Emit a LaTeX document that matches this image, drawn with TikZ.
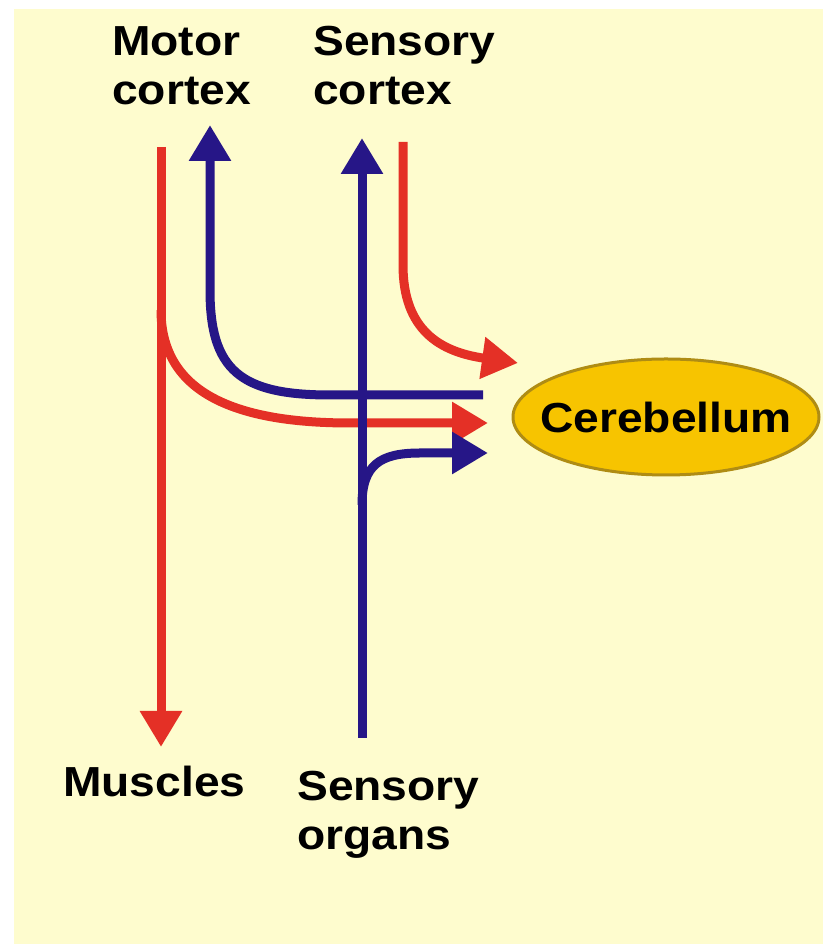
\documentclass[tikz,border=0pt]{standalone}
\usepackage{fontspec}
\usepackage{graphicx}
\setmainfont{Liberation Sans}
\usetikzlibrary{arrows.meta,shapes.geometric}
\definecolor{bgyellow}{RGB}{254,252,206}
\definecolor{nred}{RGB}{228,48,38}
\definecolor{nblue}{RGB}{38,22,135}
\definecolor{cerefill}{RGB}{247,196,0}
\definecolor{cereedge}{RGB}{175,140,20}
\newcommand{\widetext}[1]{\scalebox{1.1}[1]{#1}}
\begin{document}
\begin{tikzpicture}[x=1pt,y=1pt,
  lbl/.style={font=\fontsize{42}{49}\selectfont\bfseries, align=left, inner sep=0pt, anchor=base west},
  cerebstyle/.style={ellipse, fill=cerefill, draw=cereedge, line width=3pt, minimum width=306pt, minimum height=116pt, inner sep=0pt, font=\fontsize{42}{49}\selectfont\bfseries},
  motorpath/.style={draw=nred, line width=9pt},
  sensepath/.style={draw=nblue, line width=9pt},
  tipped/.style={-{Triangle[length=36pt,width=40pt]}},
]
\useasboundingbox (0,0) rectangle (827,947);
\fill[bgyellow] (14,3) rectangle (823,938);

% labels (base anchor = baseline of the last line)
\node[lbl] (motor) at (112,842) {\widetext{Motor}\\\widetext{cortex}};
\node[lbl] (scortex) at (313,842) {\widetext{Sensory}\\\widetext{cortex}};
\node[lbl] (muscles) at (63,150) {\widetext{Muscles}};
\node[lbl] (organs) at (297,97) {\widetext{Sensory}\\\widetext{organs}};
\node[cerebstyle] (cereb) at (666,530) {\makebox[0pt][c]{\widetext{Cerebellum}}};

% named end points
\coordinate (mtop) at (161,800);
\coordinate (mbot) at (161,200);
\coordinate (mbranch) at (161,637);
\coordinate (mend) at (488,524);
\coordinate (bmend) at (483,552);
\coordinate (bmtop) at (210,822);
\coordinate (stop) at (362,809);
\coordinate (sbot) at (362,209);
\coordinate (sbranch) at (362,442);
\coordinate (send) at (488,494);
\coordinate (rstop) at (403,805);
\coordinate (rsend) at (518,584);

% motor output (red)
\draw[motorpath, tipped] (mtop) -- (mbot);
\draw[motorpath, tipped] (mbranch) .. controls (161,557) and (230,524) .. (350,524) -- (mend);
% motor feedback (blue)
\draw[sensepath, tipped] (bmend) -- (330,552) .. controls (240,552) and (210,577) .. (210,657) -- (bmtop);
% sensory input (blue)
\draw[sensepath, tipped] (sbot) -- (stop);
\draw[sensepath, tipped] (sbranch) .. controls (362,482) and (380,494) .. (420,494) -- (send);
% sensory cortex to cerebellum (red)
\draw[motorpath, tipped] (rstop) -- (403,682) .. controls (403,617) and (440,595) .. (rsend);
\end{tikzpicture}
\end{document}
